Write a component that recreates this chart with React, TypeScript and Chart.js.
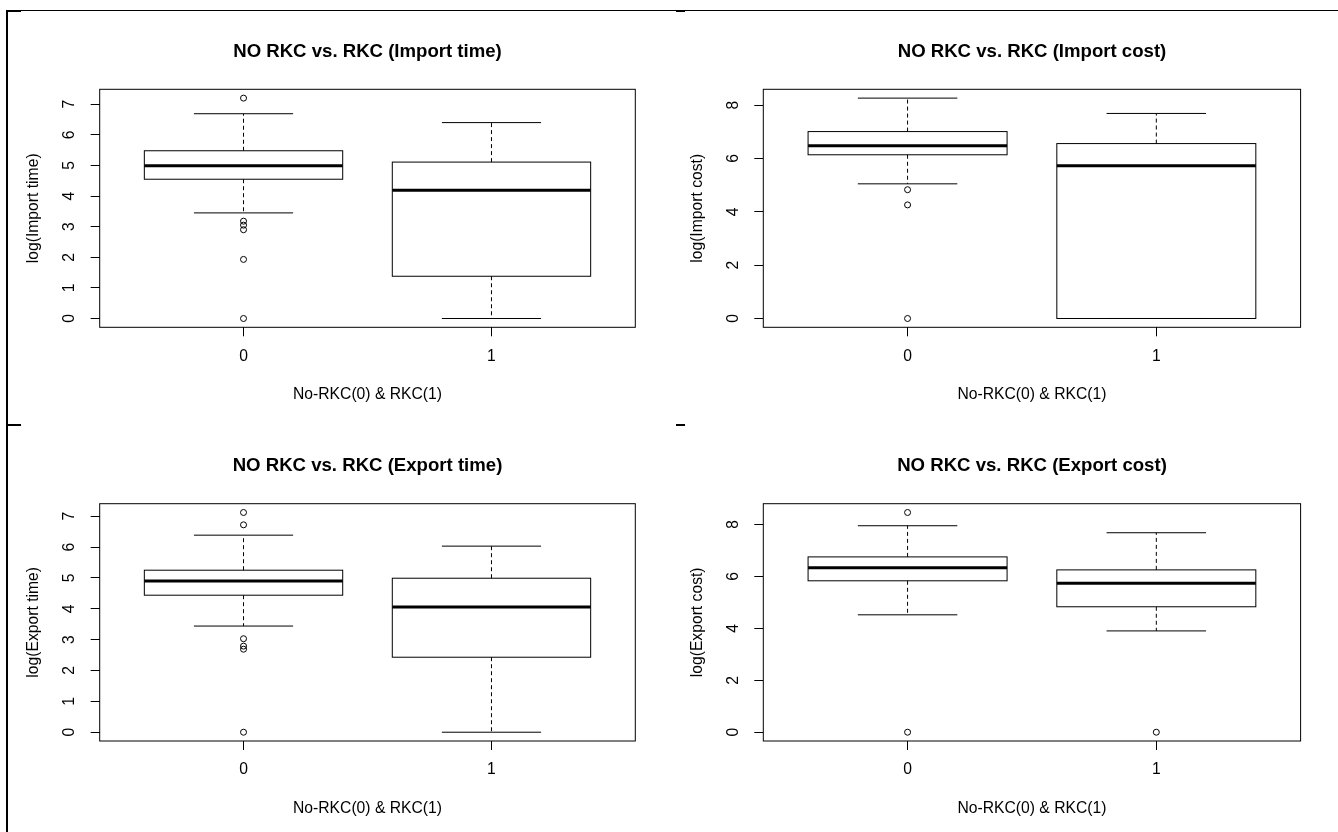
import React, { useEffect, useRef } from 'react';
import { Chart, registerables } from 'chart.js';

Chart.register(...registerables);

// ---------- data ----------
const GROUP_LABELS = ['0', '1'];
const X_TITLE = 'No-RKC(0) & RKC(1)';

// per group: [lower whisker, Q1, median, Q3, upper whisker]
const IMPORT_TIME_STATS = [
  [3.45, 4.55, 4.99, 5.48, 6.69],
  [0, 1.38, 4.19, 5.11, 6.4],
];
const IMPORT_TIME_OUTLIERS = [[7.2, 3.18, 3.05, 2.9, 1.93, 0], []];
const IMPORT_TIME_TICKS = [0, 1, 2, 3, 4, 5, 6, 7];

const IMPORT_COST_STATS = [
  [5.05, 6.14, 6.48, 7.01, 8.265],
  [0, 0, 5.73, 6.56, 7.69],
];
const IMPORT_COST_OUTLIERS = [[4.83, 4.26, 0], []];
const IMPORT_COST_TICKS = [0, 2, 4, 6, 8];

const EXPORT_TIME_STATS = [
  [3.44, 4.44, 4.9, 5.25, 6.385],
  [0, 2.43, 4.06, 4.99, 6.03],
];
const EXPORT_TIME_OUTLIERS = [[7.12, 6.72, 3.03, 2.79, 2.69, 0], []];
const EXPORT_TIME_TICKS = [0, 1, 2, 3, 4, 5, 6, 7];

const EXPORT_COST_STATS = [
  [4.52, 5.83, 6.33, 6.75, 7.95],
  [3.9, 4.83, 5.74, 6.25, 7.68],
];
const EXPORT_COST_OUTLIERS = [[8.46, 0], [0]];
const EXPORT_COST_TICKS = [0, 2, 4, 6, 8];

const PANELS = [
  { title: 'NO RKC vs. RKC (Import time)', yTitle: 'log(Import time)', stats: IMPORT_TIME_STATS, outliers: IMPORT_TIME_OUTLIERS, ticks: IMPORT_TIME_TICKS },
  { title: 'NO RKC vs. RKC (Import cost)', yTitle: 'log(Import cost)', stats: IMPORT_COST_STATS, outliers: IMPORT_COST_OUTLIERS, ticks: IMPORT_COST_TICKS },
  { title: 'NO RKC vs. RKC (Export time)', yTitle: 'log(Export time)', stats: EXPORT_TIME_STATS, outliers: EXPORT_TIME_OUTLIERS, ticks: EXPORT_TIME_TICKS },
  { title: 'NO RKC vs. RKC (Export cost)', yTitle: 'log(Export cost)', stats: EXPORT_COST_STATS, outliers: EXPORT_COST_OUTLIERS, ticks: EXPORT_COST_TICKS },
];

// ---------- layout (page coordinates) ----------
const LAYOUTS = [
  { left: 10, top: 12, width: 715, height: 410, x0: 99.7, x1: 635.3, y0: 89.3, y1: 327.3 },
  { left: 686, top: 12, width: 692, height: 410, x0: 763.3, x1: 1300.6, y0: 89.3, y1: 327.3 },
  { left: 10, top: 427, width: 715, height: 400, x0: 99.7, x1: 635.3, y0: 503.7, y1: 741 },
  { left: 686, top: 427, width: 692, height: 400, x0: 763.3, x1: 1300.6, y0: 503.7, y1: 741 },
];

const FONT_FAMILY = "'Liberation Sans', Arial, sans-serif";
const BASE_SIZE = 15.7;
const TITLE_SIZE = 18.6;
const LINE_H = 1.2;
const TICK_LEN = 9;
const INK = '#000';

const boxPlugin = {
  id: 'rbox',
  beforeDatasetsDraw(chart: any, _args: any, opts: any) {
    const { ctx, chartArea: a, scales } = chart;
    const x = scales.x;
    const y = scales.y;
    const stats: number[][] = opts.stats || [];
    const line = (x1: number, y1: number, x2: number, y2: number) => {
      ctx.beginPath();
      ctx.moveTo(x1, y1);
      ctx.lineTo(x2, y2);
      ctx.stroke();
    };
    ctx.save();
    ctx.strokeStyle = INK;
    ctx.lineWidth = 1;
    stats.forEach((s, i) => {
      const c = i + 1;
      const xl = x.getPixelForValue(c - 0.4);
      const xr = x.getPixelForValue(c + 0.4);
      const cl = x.getPixelForValue(c - 0.2);
      const cr = x.getPixelForValue(c + 0.2);
      const xm = x.getPixelForValue(c);
      const [lo, q1, med, q3, hi] = s.map((v) => y.getPixelForValue(v));
      ctx.setLineDash([4, 3]);
      if (hi < q3) line(xm, q3, xm, hi);
      if (lo > q1) line(xm, q1, xm, lo);
      ctx.setLineDash([]);
      line(cl, hi, cr, hi);
      line(cl, lo, cr, lo);
      ctx.strokeRect(xl, q3, xr - xl, q1 - q3);
      ctx.lineWidth = 3;
      line(xl, med, xr, med);
      ctx.lineWidth = 1;
    });
    ctx.strokeRect(a.left, a.top, a.width, a.height);
    ctx.restore();
  },
};

function measureDigit(): number {
  const c = document.createElement('canvas').getContext('2d');
  if (!c) return BASE_SIZE * 0.556;
  c.font = `${BASE_SIZE}px ${FONT_FAMILY}`;
  return c.measureText('0').width;
}

function makeConfig(p: any, lay: any): any {
  const all = [...p.stats.flat(), ...p.outliers.flat()];
  const lo = Math.min(...all);
  const hi = Math.max(...all);
  const pad = (hi - lo) * 0.04;
  const n = GROUP_LABELS.length;
  const xPad = n * 0.04;

  const cx0 = lay.x0 - lay.left;
  const cx1 = lay.x1 - lay.left;
  const cy0 = lay.y0 - lay.top;
  const cy1 = lay.y1 - lay.top;
  const baseLH = BASE_SIZE * LINE_H;
  const titleLH = TITLE_SIZE * LINE_H;

  const titleCy = lay.y0 - 37.8 - lay.top;
  const titlePadTop = titleCy - titleLH / 2;
  const titlePadBottom = cy0 - titlePadTop - titleLH;

  const digitW = measureDigit();
  const yTickCx = lay.x0 - 29.7 - lay.left;
  const yTickPad = cx0 - TICK_LEN - yTickCx - digitW / 2;
  const yTitlePad = lay.x0 - 65.7 - lay.left - baseLH / 2;

  const xTickPad = lay.y1 + 28.9 - lay.top - cy1 - TICK_LEN - baseLH / 2;
  const xTitlePad = lay.height - (lay.y1 + 67.5 - lay.top) - baseLH / 2;

  const font = { family: FONT_FAMILY, size: BASE_SIZE, lineHeight: LINE_H };
  const points: { x: number; y: number }[] = [];
  p.outliers.forEach((arr: number[], i: number) => arr.forEach((v) => points.push({ x: i + 1, y: v })));

  return {
    type: 'scatter',
    data: {
      datasets: [
        {
          data: points,
          pointStyle: 'circle',
          pointRadius: 3,
          pointBorderWidth: 1,
          borderColor: INK,
          backgroundColor: 'rgba(0,0,0,0)',
          pointBackgroundColor: 'rgba(0,0,0,0)',
          pointBorderColor: INK,
          showLine: false,
        },
      ],
    },
    plugins: [boxPlugin],
    options: {
      responsive: false,
      animation: false,
      events: [],
      layout: { padding: 0 },
      plugins: {
        legend: { display: false },
        tooltip: { enabled: false },
        title: {
          display: true,
          text: p.title,
          color: INK,
          font: { family: FONT_FAMILY, size: TITLE_SIZE, weight: 'bold', lineHeight: LINE_H },
          padding: { top: titlePadTop, bottom: titlePadBottom },
        },
        rbox: { stats: p.stats },
      },
      scales: {
        x: {
          type: 'linear',
          position: 'bottom',
          min: 0.5 - xPad,
          max: n + 0.5 + xPad,
          afterBuildTicks: (s: any) => {
            s.ticks = GROUP_LABELS.map((_, i) => ({ value: i + 1 }));
          },
          afterFit: (s: any) => {
            s.height = lay.height - cy1;
          },
          ticks: {
            callback: (v: number) => GROUP_LABELS[Math.round(v) - 1],
            autoSkip: false,
            minRotation: 0,
            maxRotation: 0,
            color: INK,
            font,
            padding: xTickPad,
          },
          grid: { drawOnChartArea: false, drawTicks: true, tickLength: TICK_LEN, color: INK, lineWidth: 1 },
          border: { display: false },
          title: { display: true, text: X_TITLE, color: INK, font, padding: { top: 0, bottom: xTitlePad } },
        },
        y: {
          type: 'linear',
          position: 'left',
          min: lo - pad,
          max: hi + pad,
          afterBuildTicks: (s: any) => {
            s.ticks = p.ticks.map((v: number) => ({ value: v }));
          },
          afterFit: (s: any) => {
            s.width = cx0;
          },
          ticks: {
            minRotation: 90,
            maxRotation: 90,
            crossAlign: 'center',
            autoSkip: false,
            color: INK,
            font,
            padding: yTickPad,
          },
          grid: { drawOnChartArea: false, drawTicks: true, tickLength: TICK_LEN, color: INK, lineWidth: 1 },
          border: { display: false },
          title: { display: true, text: p.yTitle, color: INK, font, padding: { top: yTitlePad, bottom: 0 } },
        },
        yRight: {
          type: 'linear',
          position: 'right',
          display: true,
          ticks: { display: false },
          grid: { display: false, drawTicks: false },
          border: { display: false },
          afterFit: (s: any) => {
            s.width = lay.width - cx1;
          },
        },
      },
    },
  };
}

function Panel({ panel, layout }: { panel: any; layout: any }) {
  const ref = useRef<HTMLCanvasElement>(null);
  useEffect(() => {
    if (!ref.current) return;
    const chart = new Chart(ref.current, makeConfig(panel, layout));
    return () => chart.destroy();
  }, [panel, layout]);
  return (
    <canvas
      ref={ref}
      width={layout.width}
      height={layout.height}
      style={{ position: 'absolute', left: layout.left, top: layout.top, width: layout.width, height: layout.height }}
    />
  );
}

const line = (left: number, top: number, width: number, height: number) => (
  <div style={{ position: 'absolute', left, top, width, height, background: '#000' }} />
);

export default function App() {
  return (
    <div
      style={{
        position: 'absolute',
        left: 0,
        top: 0,
        width: 1338,
        height: 832,
        overflow: 'hidden',
        background: '#fff',
      }}
    >
      {line(6, 10, 1332, 1)}
      {line(6, 10, 15, 2)}
      {line(6, 10, 2, 822)}
      {line(676, 10, 9, 2)}
      {line(676, 424, 9, 2)}
      {line(8, 424, 13, 2)}
      {PANELS.map((p, i) => (
        <Panel key={i} panel={p} layout={LAYOUTS[i]} />
      ))}
    </div>
  );
}
